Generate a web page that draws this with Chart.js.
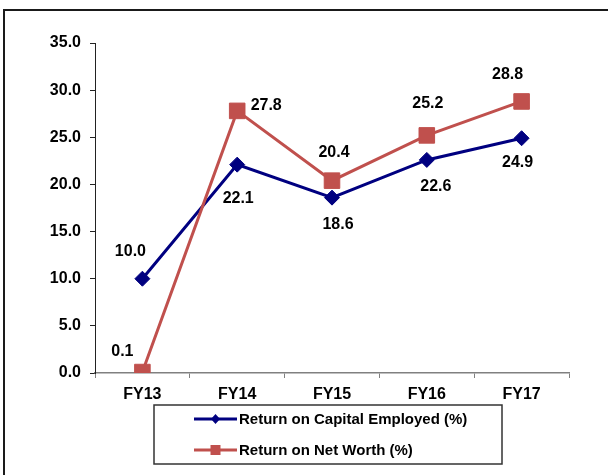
<!DOCTYPE html>
<html>
<head>
<meta charset="utf-8">
<script src="https://cdn.jsdelivr.net/npm/chart.js@4.4.1/dist/chart.umd.min.js"></script>
<style>
  html, body { margin: 0; padding: 0; background: #fff; }
  canvas { display: block; }
</style>
</head>
<body>
<canvas id="chart" width="608" height="475"></canvas>
<script>
// chart data
const years = ["FY13", "FY14", "FY15", "FY16", "FY17"];
const roce = [10.0, 22.1, 18.6, 22.6, 24.9];
const ronw = [0.1, 27.8, 20.4, 25.2, 28.8];
const yTicks = [0, 5, 10, 15, 20, 25, 30, 35];

// where each value label sits, relative to its point
const roceLabelOffsets = [[-12, -27], [1, 34], [6, 27], [9, 27], [-4, 24]];
const ronwLabelOffsets = [[-20, -20], [29, -5], [2, -28], [1, -32], [-14, -27]];

const NAVY = "#000080";
const RED = "#C0504D";
const FONT = "'Liberation Sans', Arial, sans-serif";

const valueLabels = {
  id: "valueLabels",
  afterDatasetsDraw(chart) {
    const ctx = chart.ctx;
    ctx.save();
    ctx.font = "bold 16px " + FONT;
    ctx.fillStyle = "#000";
    ctx.textAlign = "center";
    ctx.textBaseline = "middle";
    chart.data.datasets.forEach((ds, i) => {
      const meta = chart.getDatasetMeta(i);
      meta.data.forEach((pt, j) => {
        const off = ds.labelOffsets[j];
        ctx.fillText(ds.data[j].toFixed(1), pt.x + off[0], pt.y + off[1]);
      });
    });
    ctx.restore();
  }
};

const frameAndLegend = {
  id: "frameAndLegend",
  afterDraw(chart) {
    const ctx = chart.ctx;
    ctx.save();
    // outer frame (right and bottom run off the picture)
    ctx.strokeStyle = "#1a1a1a";
    ctx.lineWidth = 2;
    ctx.strokeRect(4, 10, 700, 600);

    // legend box
    const a = chart.chartArea;
    const bx = a.left + 59, by = a.bottom + 32, bw = 348, bh = 59;
    ctx.strokeStyle = "#333";
    ctx.lineWidth = 1.5;
    ctx.strokeRect(bx, by, bw, bh);

    const rows = [
      { label: "Return on Capital Employed (%)", color: NAVY, shape: "diamond", y: by + 14 },
      { label: "Return on Net Worth (%)", color: RED, shape: "square", y: by + 45 }
    ];
    rows.forEach(r => {
      const x0 = bx + 40, x1 = bx + 83, cx = (x0 + x1) / 2;
      ctx.strokeStyle = r.color;
      ctx.lineWidth = 3;
      ctx.beginPath();
      ctx.moveTo(x0, r.y);
      ctx.lineTo(x1, r.y);
      ctx.stroke();
      ctx.fillStyle = r.color;
      ctx.beginPath();
      if (r.shape === "diamond") {
        ctx.moveTo(cx, r.y - 5);
        ctx.lineTo(cx + 4.5, r.y);
        ctx.lineTo(cx, r.y + 5);
        ctx.lineTo(cx - 4.5, r.y);
        ctx.closePath();
      } else {
        ctx.rect(cx - 5, r.y - 5, 10, 10);
      }
      ctx.fill();
      ctx.fillStyle = "#000";
      ctx.font = "bold 15px " + FONT;
      ctx.textAlign = "left";
      ctx.textBaseline = "middle";
      ctx.fillText(r.label, x1 + 2, r.y + 1);
    });
    ctx.restore();
  }
};

new Chart(document.getElementById("chart"), {
  type: "line",
  data: {
    labels: years,
    datasets: [
      {
        label: "Return on Capital Employed (%)",
        data: roce,
        labelOffsets: roceLabelOffsets,
        borderColor: NAVY,
        backgroundColor: NAVY,
        borderWidth: 3,
        pointStyle: "rectRot",
        pointRadius: 7.5,
        pointBorderWidth: 1,
        pointBackgroundColor: NAVY,
        pointBorderColor: NAVY,
        tension: 0,
        order: 1
      },
      {
        label: "Return on Net Worth (%)",
        data: ronw,
        labelOffsets: ronwLabelOffsets,
        borderColor: RED,
        backgroundColor: RED,
        borderWidth: 3,
        pointStyle: "rect",
        pointRadius: 11,
        pointBorderWidth: 1,
        pointBackgroundColor: RED,
        pointBorderColor: RED,
        tension: 0,
        order: 0
      }
    ]
  },
  options: {
    responsive: false,
    animation: false,
    devicePixelRatio: 1,
    layout: { padding: { left: 0, top: 43, right: 39, bottom: 0 } },
    plugins: {
      legend: { display: false },
      tooltip: { enabled: false }
    },
    scales: {
      x: {
        offset: true,
        afterFit: s => { s.height = 102; },
        grid: {
          display: true,
          drawOnChartArea: false,
          offset: true,
          tickLength: 5,
          tickColor: "#808080",
          tickWidth: 1
        },
        border: { display: true, color: "#808080", width: 1.5 },
        ticks: {
          color: "#000",
          padding: 7,
          font: { family: FONT, size: 16, weight: "bold" }
        }
      },
      y: {
        min: 0,
        max: 35,
        afterFit: s => { s.width = 95; },
        afterBuildTicks: s => { s.ticks = yTicks.map(v => ({ value: v })); },
        grid: {
          display: true,
          drawOnChartArea: false,
          tickLength: 5,
          tickColor: "#222",
          tickWidth: 1
        },
        border: { display: true, color: "#222", width: 1 },
        ticks: {
          color: "#000",
          padding: 9,
          callback: v => v.toFixed(1),
          font: { family: FONT, size: 16, weight: "bold" }
        }
      }
    }
  },
  plugins: [valueLabels, frameAndLegend]
});
</script>
</body>
</html>
